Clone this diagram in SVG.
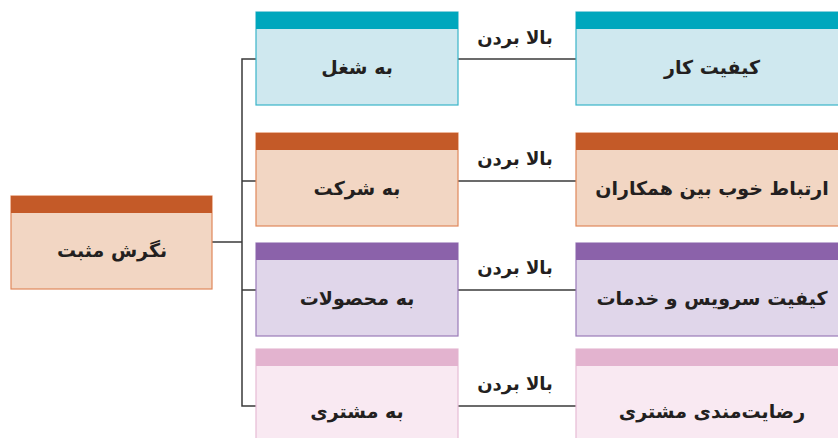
<svg xmlns="http://www.w3.org/2000/svg" width="838" height="438" viewBox="0 0 838 438">
<style>
text{font-family:"DejaVu Sans","Noto Sans",sans-serif;font-weight:bold;fill:#231f20;text-anchor:middle;direction:rtl}
.lbl{font-size:19px}
.ed{font-size:18px}
.ln{stroke:#3a3a3a;stroke-width:1.5;fill:none}
.tb{fill:#cfe8ef;stroke:#3ab4c9;stroke-width:1.2}
.th{fill:#00a7bd}
.ob{fill:#f2d6c3;stroke:#e0875a;stroke-width:1.2}
.oh{fill:#c45a28}
.pb{fill:#e0d6ea;stroke:#9a7bb8;stroke-width:1.2}
.ph{fill:#8b62aa}
.kb{fill:#f9e9f2;stroke:#e6bcd5;stroke-width:1.2}
.kh{fill:#e3b3cf}
</style>
<rect width="838" height="438" fill="#fff"/>
<g id="connectors">
<line class="ln" x1="212" y1="242" x2="242" y2="242"/>
<polyline class="ln" points="256,59 242,59 242,406 256,406"/>
<line class="ln" x1="242" y1="181" x2="256" y2="181"/>
<line class="ln" x1="242" y1="290" x2="256" y2="290"/>
<line class="ln" x1="458" y1="59" x2="576" y2="59"/>
<line class="ln" x1="458" y1="181" x2="576" y2="181"/>
<line class="ln" x1="458" y1="290" x2="576" y2="290"/>
<line class="ln" x1="458" y1="406" x2="576" y2="406"/>
<text class="ed" x="515" y="44">بالا بردن</text>
<text class="ed" x="515" y="165">بالا بردن</text>
<text class="ed" x="515" y="274">بالا بردن</text>
<text class="ed" x="515" y="390">بالا بردن</text>
</g>
<g id="root">
<rect class="ob" x="11" y="196" width="201" height="93"/>
<rect class="oh" x="11" y="196" width="201" height="17"/>
<text class="lbl" x="112" y="257">نگرش مثبت</text>
</g>
<g id="job">
<rect class="tb" x="256" y="12" width="202" height="93"/>
<rect class="th" x="256" y="12" width="202" height="17"/>
<text class="lbl" x="357" y="74">به شغل</text>
</g>
<g id="company">
<rect class="ob" x="256" y="133" width="202" height="93"/>
<rect class="oh" x="256" y="133" width="202" height="17"/>
<text class="lbl" x="357" y="195">به شرکت</text>
</g>
<g id="products">
<rect class="pb" x="256" y="243" width="202" height="93"/>
<rect class="ph" x="256" y="243" width="202" height="17"/>
<text class="lbl" x="357" y="305">به محصولات</text>
</g>
<g id="customer">
<rect class="kb" x="256" y="349" width="202" height="100"/>
<rect class="kh" x="256" y="349" width="202" height="17"/>
<text class="lbl" x="357" y="418">به مشتری</text>
</g>
<g id="quality">
<rect class="tb" x="576" y="12" width="270" height="93"/>
<rect class="th" x="576" y="12" width="270" height="17"/>
<text class="lbl" x="712" y="74">کیفیت کار</text>
</g>
<g id="relations">
<rect class="ob" x="576" y="133" width="270" height="93"/>
<rect class="oh" x="576" y="133" width="270" height="17"/>
<text class="lbl" x="712" y="195">ارتباط خوب بین همکاران</text>
</g>
<g id="service">
<rect class="pb" x="576" y="243" width="270" height="93"/>
<rect class="ph" x="576" y="243" width="270" height="17"/>
<text class="lbl" x="712" y="305">کیفیت سرویس و خدمات</text>
</g>
<g id="satisfaction">
<rect class="kb" x="576" y="349" width="270" height="100"/>
<rect class="kh" x="576" y="349" width="270" height="17"/>
<text class="lbl" x="712" y="418">رضایت‌مندی مشتری</text>
</g>
</svg>
